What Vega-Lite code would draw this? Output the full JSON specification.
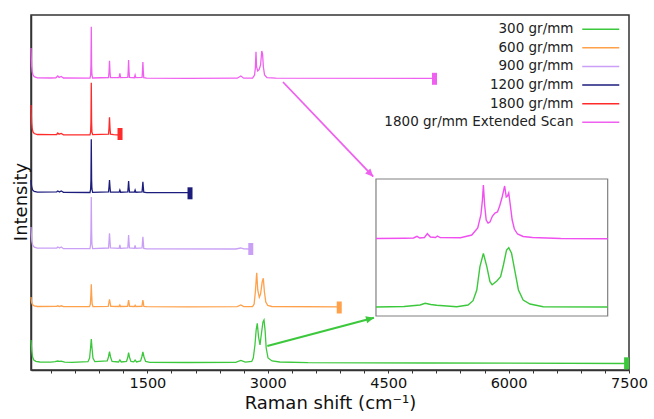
{
  "$schema": "https://vega.github.io/schema/vega-lite/v6.json",
  "width": 598,
  "height": 355,
  "autosize": {"type": "none"},
  "padding": {"left": 31, "top": 15, "right": 25, "bottom": 49},
  "background": "#ffffff",
  "config": {
    "font": "DejaVu Sans",
    "view": {"stroke": "#333333", "strokeWidth": 1.5},
    "axis": {"grid": false}
  },
  "datasets": {
    "spectra": [
      {"s":"1800 gr/mm Extended Scan","x":50,"y":322},{"s":"1800 gr/mm Extended Scan","x":54,"y":312},{"s":"1800 gr/mm Extended Scan","x":58,"y":304},{"s":"1800 gr/mm Extended Scan","x":65,"y":298},{"s":"1800 gr/mm Extended Scan","x":75,"y":295},{"s":"1800 gr/mm Extended Scan","x":90,"y":293.3},{"s":"1800 gr/mm Extended Scan","x":130,"y":292.2},{"s":"1800 gr/mm Extended Scan","x":300,"y":292},{"s":"1800 gr/mm Extended Scan","x":360,"y":292.2},{"s":"1800 gr/mm Extended Scan","x":384,"y":294},{"s":"1800 gr/mm Extended Scan","x":400,"y":292.6},{"s":"1800 gr/mm Extended Scan","x":426,"y":293.6},{"s":"1800 gr/mm Extended Scan","x":455,"y":292},{"s":"1800 gr/mm Extended Scan","x":785,"y":291.8},{"s":"1800 gr/mm Extended Scan","x":793,"y":295},{"s":"1800 gr/mm Extended Scan","x":797,"y":305},{"s":"1800 gr/mm Extended Scan","x":801,"y":343.3},{"s":"1800 gr/mm Extended Scan","x":805,"y":305},{"s":"1800 gr/mm Extended Scan","x":809,"y":295},{"s":"1800 gr/mm Extended Scan","x":818,"y":292},{"s":"1800 gr/mm Extended Scan","x":1016,"y":292.5},{"s":"1800 gr/mm Extended Scan","x":1022,"y":298},{"s":"1800 gr/mm Extended Scan","x":1028,"y":309.3},{"s":"1800 gr/mm Extended Scan","x":1034,"y":298},{"s":"1800 gr/mm Extended Scan","x":1040,"y":292.5},{"s":"1800 gr/mm Extended Scan","x":1148,"y":292.3},{"s":"1800 gr/mm Extended Scan","x":1157,"y":296.7},{"s":"1800 gr/mm Extended Scan","x":1166,"y":292.3},{"s":"1800 gr/mm Extended Scan","x":1256,"y":292.6},{"s":"1800 gr/mm Extended Scan","x":1261,"y":299},{"s":"1800 gr/mm Extended Scan","x":1266,"y":310},{"s":"1800 gr/mm Extended Scan","x":1271,"y":299},{"s":"1800 gr/mm Extended Scan","x":1277,"y":292.6},{"s":"1800 gr/mm Extended Scan","x":1338,"y":292.3},{"s":"1800 gr/mm Extended Scan","x":1347,"y":295},{"s":"1800 gr/mm Extended Scan","x":1356,"y":292.3},{"s":"1800 gr/mm Extended Scan","x":1434,"y":292.6},{"s":"1800 gr/mm Extended Scan","x":1439,"y":299},{"s":"1800 gr/mm Extended Scan","x":1444,"y":308},{"s":"1800 gr/mm Extended Scan","x":1449,"y":299},{"s":"1800 gr/mm Extended Scan","x":1455,"y":292.3},{"s":"1800 gr/mm Extended Scan","x":1490,"y":291.8},{"s":"1800 gr/mm Extended Scan","x":2000,"y":291.7},{"s":"1800 gr/mm Extended Scan","x":2620,"y":291.8},{"s":"1800 gr/mm Extended Scan","x":2664,"y":294},{"s":"1800 gr/mm Extended Scan","x":2700,"y":291.8},{"s":"1800 gr/mm Extended Scan","x":2810,"y":292},{"s":"1800 gr/mm Extended Scan","x":2835,"y":295},{"s":"1800 gr/mm Extended Scan","x":2845,"y":302},{"s":"1800 gr/mm Extended Scan","x":2853,"y":318.3},{"s":"1800 gr/mm Extended Scan","x":2860,"y":303},{"s":"1800 gr/mm Extended Scan","x":2875,"y":299},{"s":"1800 gr/mm Extended Scan","x":2893,"y":300.5},{"s":"1800 gr/mm Extended Scan","x":2910,"y":305},{"s":"1800 gr/mm Extended Scan","x":2925,"y":319},{"s":"1800 gr/mm Extended Scan","x":2935,"y":316},{"s":"1800 gr/mm Extended Scan","x":2945,"y":303},{"s":"1800 gr/mm Extended Scan","x":2960,"y":295},{"s":"1800 gr/mm Extended Scan","x":2990,"y":292.3},{"s":"1800 gr/mm Extended Scan","x":3100,"y":291.8},{"s":"1800 gr/mm Extended Scan","x":5077,"y":291.7},

      {"s":"1800 gr/mm","x":50,"y":265},{"s":"1800 gr/mm","x":54,"y":255},{"s":"1800 gr/mm","x":58,"y":247},{"s":"1800 gr/mm","x":65,"y":241},{"s":"1800 gr/mm","x":75,"y":238},{"s":"1800 gr/mm","x":90,"y":236.5},{"s":"1800 gr/mm","x":130,"y":235.5},{"s":"1800 gr/mm","x":300,"y":235.3},{"s":"1800 gr/mm","x":370,"y":235.5},{"s":"1800 gr/mm","x":384,"y":237},{"s":"1800 gr/mm","x":400,"y":235.8},{"s":"1800 gr/mm","x":426,"y":236.5},{"s":"1800 gr/mm","x":455,"y":235.2},{"s":"1800 gr/mm","x":785,"y":235.2},{"s":"1800 gr/mm","x":793,"y":238},{"s":"1800 gr/mm","x":797,"y":248},{"s":"1800 gr/mm","x":801,"y":287.3},{"s":"1800 gr/mm","x":805,"y":248},{"s":"1800 gr/mm","x":809,"y":238},{"s":"1800 gr/mm","x":818,"y":235.3},{"s":"1800 gr/mm","x":1016,"y":235.8},{"s":"1800 gr/mm","x":1022,"y":242},{"s":"1800 gr/mm","x":1028,"y":252.7},{"s":"1800 gr/mm","x":1034,"y":242},{"s":"1800 gr/mm","x":1040,"y":235.8},{"s":"1800 gr/mm","x":1080,"y":235.3},{"s":"1800 gr/mm","x":1159,"y":235},

      {"s":"1200 gr/mm","x":50,"y":190},{"s":"1200 gr/mm","x":54,"y":186},{"s":"1200 gr/mm","x":60,"y":182.5},{"s":"1200 gr/mm","x":70,"y":180},{"s":"1200 gr/mm","x":90,"y":178.5},{"s":"1200 gr/mm","x":130,"y":177.8},{"s":"1200 gr/mm","x":370,"y":178.2},{"s":"1200 gr/mm","x":384,"y":179},{"s":"1200 gr/mm","x":405,"y":178},{"s":"1200 gr/mm","x":426,"y":179},{"s":"1200 gr/mm","x":455,"y":177.6},{"s":"1200 gr/mm","x":785,"y":177.5},{"s":"1200 gr/mm","x":793,"y":181},{"s":"1200 gr/mm","x":797,"y":190},{"s":"1200 gr/mm","x":801,"y":230.7},{"s":"1200 gr/mm","x":805,"y":190},{"s":"1200 gr/mm","x":809,"y":181},{"s":"1200 gr/mm","x":818,"y":177.6},{"s":"1200 gr/mm","x":1016,"y":178.2},{"s":"1200 gr/mm","x":1022,"y":183},{"s":"1200 gr/mm","x":1028,"y":190},{"s":"1200 gr/mm","x":1034,"y":183},{"s":"1200 gr/mm","x":1040,"y":178},{"s":"1200 gr/mm","x":1148,"y":177.8},{"s":"1200 gr/mm","x":1157,"y":180},{"s":"1200 gr/mm","x":1166,"y":177.8},{"s":"1200 gr/mm","x":1256,"y":178.2},{"s":"1200 gr/mm","x":1261,"y":183},{"s":"1200 gr/mm","x":1266,"y":189},{"s":"1200 gr/mm","x":1271,"y":183},{"s":"1200 gr/mm","x":1277,"y":178},{"s":"1200 gr/mm","x":1338,"y":177.8},{"s":"1200 gr/mm","x":1347,"y":180},{"s":"1200 gr/mm","x":1356,"y":177.8},{"s":"1200 gr/mm","x":1434,"y":178.2},{"s":"1200 gr/mm","x":1439,"y":183},{"s":"1200 gr/mm","x":1444,"y":188.3},{"s":"1200 gr/mm","x":1449,"y":183},{"s":"1200 gr/mm","x":1455,"y":177.8},{"s":"1200 gr/mm","x":1490,"y":177.4},{"s":"1200 gr/mm","x":2031,"y":177.3},

      {"s":"900 gr/mm","x":50,"y":143},{"s":"900 gr/mm","x":54,"y":136},{"s":"900 gr/mm","x":60,"y":129},{"s":"900 gr/mm","x":70,"y":125},{"s":"900 gr/mm","x":90,"y":122.8},{"s":"900 gr/mm","x":130,"y":121.8},{"s":"900 gr/mm","x":370,"y":122},{"s":"900 gr/mm","x":384,"y":123},{"s":"900 gr/mm","x":405,"y":122},{"s":"900 gr/mm","x":426,"y":123},{"s":"900 gr/mm","x":455,"y":121.3},{"s":"900 gr/mm","x":785,"y":121.3},{"s":"900 gr/mm","x":793,"y":126},{"s":"900 gr/mm","x":797,"y":140},{"s":"900 gr/mm","x":801,"y":173},{"s":"900 gr/mm","x":805,"y":140},{"s":"900 gr/mm","x":809,"y":126},{"s":"900 gr/mm","x":818,"y":121.4},{"s":"900 gr/mm","x":1016,"y":122},{"s":"900 gr/mm","x":1022,"y":129},{"s":"900 gr/mm","x":1028,"y":136.7},{"s":"900 gr/mm","x":1034,"y":129},{"s":"900 gr/mm","x":1040,"y":122},{"s":"900 gr/mm","x":1148,"y":121.6},{"s":"900 gr/mm","x":1157,"y":125},{"s":"900 gr/mm","x":1166,"y":121.6},{"s":"900 gr/mm","x":1256,"y":122},{"s":"900 gr/mm","x":1261,"y":128},{"s":"900 gr/mm","x":1266,"y":135},{"s":"900 gr/mm","x":1271,"y":128},{"s":"900 gr/mm","x":1277,"y":122},{"s":"900 gr/mm","x":1338,"y":121.6},{"s":"900 gr/mm","x":1347,"y":124.7},{"s":"900 gr/mm","x":1356,"y":121.6},{"s":"900 gr/mm","x":1434,"y":122},{"s":"900 gr/mm","x":1439,"y":128},{"s":"900 gr/mm","x":1444,"y":133.3},{"s":"900 gr/mm","x":1449,"y":128},{"s":"900 gr/mm","x":1455,"y":121.6},{"s":"900 gr/mm","x":1490,"y":121.2},{"s":"900 gr/mm","x":2600,"y":121},{"s":"900 gr/mm","x":2664,"y":122},{"s":"900 gr/mm","x":2700,"y":121.1},{"s":"900 gr/mm","x":2788,"y":121},

      {"s":"600 gr/mm","x":50,"y":73},{"s":"600 gr/mm","x":54,"y":69.5},{"s":"600 gr/mm","x":60,"y":67},{"s":"600 gr/mm","x":70,"y":65.3},{"s":"600 gr/mm","x":90,"y":64.2},{"s":"600 gr/mm","x":130,"y":63.5},{"s":"600 gr/mm","x":370,"y":63.6},{"s":"600 gr/mm","x":384,"y":64.2},{"s":"600 gr/mm","x":405,"y":63.5},{"s":"600 gr/mm","x":426,"y":64.2},{"s":"600 gr/mm","x":455,"y":63.3},{"s":"600 gr/mm","x":780,"y":63.3},{"s":"600 gr/mm","x":790,"y":66},{"s":"600 gr/mm","x":796,"y":75},{"s":"600 gr/mm","x":801,"y":85.7},{"s":"600 gr/mm","x":806,"y":75},{"s":"600 gr/mm","x":812,"y":66},{"s":"600 gr/mm","x":822,"y":63.4},{"s":"600 gr/mm","x":1012,"y":63.6},{"s":"600 gr/mm","x":1020,"y":67},{"s":"600 gr/mm","x":1028,"y":70.7},{"s":"600 gr/mm","x":1036,"y":67},{"s":"600 gr/mm","x":1044,"y":63.6},{"s":"600 gr/mm","x":1148,"y":63.5},{"s":"600 gr/mm","x":1157,"y":65},{"s":"600 gr/mm","x":1166,"y":63.5},{"s":"600 gr/mm","x":1254,"y":63.6},{"s":"600 gr/mm","x":1260,"y":67},{"s":"600 gr/mm","x":1266,"y":70},{"s":"600 gr/mm","x":1272,"y":67},{"s":"600 gr/mm","x":1278,"y":63.6},{"s":"600 gr/mm","x":1338,"y":63.5},{"s":"600 gr/mm","x":1347,"y":64.7},{"s":"600 gr/mm","x":1356,"y":63.5},{"s":"600 gr/mm","x":1432,"y":63.6},{"s":"600 gr/mm","x":1438,"y":67},{"s":"600 gr/mm","x":1444,"y":70},{"s":"600 gr/mm","x":1450,"y":67},{"s":"600 gr/mm","x":1456,"y":63.5},{"s":"600 gr/mm","x":1490,"y":63.3},{"s":"600 gr/mm","x":2000,"y":63.2},{"s":"600 gr/mm","x":2620,"y":63.4},{"s":"600 gr/mm","x":2664,"y":65},{"s":"600 gr/mm","x":2700,"y":63.4},{"s":"600 gr/mm","x":2810,"y":63.5},{"s":"600 gr/mm","x":2830,"y":66},{"s":"600 gr/mm","x":2845,"y":78},{"s":"600 gr/mm","x":2862,"y":97.3},{"s":"600 gr/mm","x":2875,"y":80},{"s":"600 gr/mm","x":2894,"y":72.7},{"s":"600 gr/mm","x":2910,"y":76},{"s":"600 gr/mm","x":2930,"y":88},{"s":"600 gr/mm","x":2944,"y":91.7},{"s":"600 gr/mm","x":2958,"y":78},{"s":"600 gr/mm","x":2975,"y":68},{"s":"600 gr/mm","x":3000,"y":64.5},{"s":"600 gr/mm","x":3050,"y":63.5},{"s":"600 gr/mm","x":3890,"y":63.2},

      {"s":"300 gr/mm","x":50,"y":30},{"s":"300 gr/mm","x":54,"y":25},{"s":"300 gr/mm","x":60,"y":19},{"s":"300 gr/mm","x":70,"y":13},{"s":"300 gr/mm","x":85,"y":10},{"s":"300 gr/mm","x":110,"y":8.6},{"s":"300 gr/mm","x":160,"y":8},{"s":"300 gr/mm","x":300,"y":7.8},{"s":"300 gr/mm","x":350,"y":8.3},{"s":"300 gr/mm","x":384,"y":9},{"s":"300 gr/mm","x":405,"y":8.6},{"s":"300 gr/mm","x":426,"y":8.9},{"s":"300 gr/mm","x":470,"y":7.9},{"s":"300 gr/mm","x":560,"y":7.6},{"s":"300 gr/mm","x":760,"y":8.3},{"s":"300 gr/mm","x":780,"y":12},{"s":"300 gr/mm","x":792,"y":22},{"s":"300 gr/mm","x":801,"y":31},{"s":"300 gr/mm","x":810,"y":22},{"s":"300 gr/mm","x":822,"y":12},{"s":"300 gr/mm","x":845,"y":8.3},{"s":"300 gr/mm","x":1000,"y":9},{"s":"300 gr/mm","x":1015,"y":13},{"s":"300 gr/mm","x":1028,"y":18.3},{"s":"300 gr/mm","x":1041,"y":13},{"s":"300 gr/mm","x":1060,"y":8.6},{"s":"300 gr/mm","x":1140,"y":8},{"s":"300 gr/mm","x":1157,"y":10},{"s":"300 gr/mm","x":1175,"y":8},{"s":"300 gr/mm","x":1240,"y":8.6},{"s":"300 gr/mm","x":1255,"y":12.5},{"s":"300 gr/mm","x":1266,"y":17.5},{"s":"300 gr/mm","x":1278,"y":12.5},{"s":"300 gr/mm","x":1295,"y":8.6},{"s":"300 gr/mm","x":1330,"y":8.1},{"s":"300 gr/mm","x":1347,"y":10},{"s":"300 gr/mm","x":1365,"y":8.1},{"s":"300 gr/mm","x":1415,"y":9},{"s":"300 gr/mm","x":1430,"y":13},{"s":"300 gr/mm","x":1444,"y":18},{"s":"300 gr/mm","x":1458,"y":13},{"s":"300 gr/mm","x":1478,"y":8.6},{"s":"300 gr/mm","x":1530,"y":7.6},{"s":"300 gr/mm","x":2000,"y":7.5},{"s":"300 gr/mm","x":2600,"y":7.7},{"s":"300 gr/mm","x":2664,"y":9.5},{"s":"300 gr/mm","x":2720,"y":7.8},{"s":"300 gr/mm","x":2800,"y":8.5},{"s":"300 gr/mm","x":2819,"y":12},{"s":"300 gr/mm","x":2840,"y":25},{"s":"300 gr/mm","x":2855,"y":40},{"s":"300 gr/mm","x":2869,"y":46.7},{"s":"300 gr/mm","x":2885,"y":33},{"s":"300 gr/mm","x":2903,"y":25},{"s":"300 gr/mm","x":2920,"y":36},{"s":"300 gr/mm","x":2940,"y":48},{"s":"300 gr/mm","x":2953,"y":50},{"s":"300 gr/mm","x":2966,"y":40},{"s":"300 gr/mm","x":2980,"y":22},{"s":"300 gr/mm","x":3003,"y":12},{"s":"300 gr/mm","x":3053,"y":9},{"s":"300 gr/mm","x":3150,"y":8},{"s":"300 gr/mm","x":3500,"y":7.3},{"s":"300 gr/mm","x":5000,"y":7},{"s":"300 gr/mm","x":7470,"y":6.5}
    ],
    "markers": [
      {"s":"300 gr/mm","x":7470,"y":6.7},
      {"s":"600 gr/mm","x":3890,"y":62.5},
      {"s":"900 gr/mm","x":2788,"y":121},
      {"s":"1200 gr/mm","x":2031,"y":176.7},
      {"s":"1800 gr/mm","x":1159,"y":236},
      {"s":"1800 gr/mm Extended Scan","x":5077,"y":291.2}
    ],
    "arrows": [
      {"s":"ext","x":3189,"y":288,"x2":4314,"y2":193.3},
      {"s":"300","x":2994,"y":24,"x2":4323,"y2":52.3}
    ],
    "frame": [
      {"x":2510,"x2":3250,"y":0,"y2":137}
    ],
    "inset": [
      {"s":"ext","x":2510,"y":77.5},{"s":"ext","x":2600,"y":77.8},{"s":"ext","x":2630,"y":78},{"s":"ext","x":2641,"y":79.7},{"s":"ext","x":2650,"y":78},{"s":"ext","x":2665,"y":78.5},{"s":"ext","x":2674,"y":82.3},{"s":"ext","x":2684,"y":79},{"s":"ext","x":2700,"y":78.5},{"s":"ext","x":2706,"y":80},{"s":"ext","x":2715,"y":78.4},{"s":"ext","x":2780,"y":78.2},{"s":"ext","x":2816,"y":81},{"s":"ext","x":2835,"y":88},{"s":"ext","x":2845,"y":101},{"s":"ext","x":2850,"y":116},{"s":"ext","x":2853,"y":131},{"s":"ext","x":2857,"y":111},{"s":"ext","x":2862,"y":96},{"s":"ext","x":2868,"y":93},{"s":"ext","x":2874,"y":94},{"s":"ext","x":2882,"y":100},{"s":"ext","x":2890,"y":103},{"s":"ext","x":2898,"y":104},{"s":"ext","x":2905,"y":110},{"s":"ext","x":2913,"y":119},{"s":"ext","x":2921,"y":130},{"s":"ext","x":2926,"y":119},{"s":"ext","x":2930,"y":120},{"s":"ext","x":2934,"y":123},{"s":"ext","x":2939,"y":111},{"s":"ext","x":2945,"y":96},{"s":"ext","x":2952,"y":87},{"s":"ext","x":2962,"y":82},{"s":"ext","x":2980,"y":79.5},{"s":"ext","x":3010,"y":78.5},{"s":"ext","x":3100,"y":77.5},{"s":"ext","x":3250,"y":77.2},
      {"s":"300","x":2510,"y":9},{"s":"300","x":2600,"y":9.5},{"s":"300","x":2651,"y":11},{"s":"300","x":2667,"y":12.7},{"s":"300","x":2685,"y":11.5},{"s":"300","x":2704,"y":10.7},{"s":"300","x":2768,"y":9.3},{"s":"300","x":2804,"y":11},{"s":"300","x":2820,"y":15.3},{"s":"300","x":2832,"y":26},{"s":"300","x":2842,"y":49.3},{"s":"300","x":2853,"y":62.7},{"s":"300","x":2864,"y":49.3},{"s":"300","x":2874,"y":34.3},{"s":"300","x":2881,"y":31.3},{"s":"300","x":2896,"y":35},{"s":"300","x":2908,"y":39.3},{"s":"300","x":2917,"y":51},{"s":"300","x":2927,"y":66},{"s":"300","x":2934,"y":68.3},{"s":"300","x":2943,"y":62.7},{"s":"300","x":2954,"y":44.3},{"s":"300","x":2965,"y":26},{"s":"300","x":2980,"y":16},{"s":"300","x":3002,"y":12},{"s":"300","x":3044,"y":9.3},{"s":"300","x":3250,"y":9}
    ]
  },
  "layer": [
    {
      "layer": [
        {
          "data": {"name": "spectra"},
          "mark": {"type": "line", "strokeWidth": 1.3},
          "encoding": {
            "x": {
              "field": "x", "type": "quantitative",
              "scale": {"domain": [50, 7500], "nice": false, "zero": false},
              "axis": {
                "orient": "bottom",
                "values": [1500, 3000, 4500, 6000, 7500],
                "format": "d",
                "labelFlush": false, "labelOverlap": false,
                "labelFontSize": 14.5, "labelColor": "#111111", "labelPadding": 3,
                "tickSize": 3, "tickColor": "#333333", "tickWidth": 1,
                "domainColor": "#333333", "domainWidth": 1.5,
                "title": "Raman shift (cm⁻¹)", "titleFontSize": 18, "titleFontWeight": "normal",
                "titleColor": "#111111", "titlePadding": 5
              }
            },
            "y": {
              "field": "y", "type": "quantitative",
              "scale": {"domain": [0, 355], "nice": false, "zero": false},
              "axis": {
                "labels": false, "ticks": false,
                "domainColor": "#333333", "domainWidth": 1.5,
                "title": "Intensity", "titleFontSize": 18, "titleFontWeight": "normal", "titleColor": "#111111",
                "titleX": -4.5, "titleY": 186.5, "titleBaseline": "alphabetic", "titleAngle": -90, "titleAlign": "center"
              }
            },
            "color": {
              "field": "s", "type": "nominal",
              "scale": {
                "domain": ["300 gr/mm", "600 gr/mm", "900 gr/mm", "1200 gr/mm", "1800 gr/mm", "1800 gr/mm Extended Scan"],
                "range": ["#3cc83c", "#ffa04a", "#c9a0f5", "#1c1c7c", "#ff2a2a", "#f060f0"]
              },
              "legend": {
                "title": null, "orient": "none", "legendX": 563, "legendY": 7.5,
                "symbolType": "M-4,0H4", "symbolSize": 85.6, "symbolStrokeWidth": 1.5,
                "labelAlign": "right", "labelOffset": -34, "labelFont": "DejaVu Sans",
                "labelFontSize": 13.5, "labelColor": "#222222", "labelLimit": 400,
                "rowPadding": 3.6, "padding": 0
              }
            }
          }
        },
        {
          "data": {"name": "markers"},
          "mark": {"type": "tick", "orient": "vertical", "thickness": 5, "size": 12, "opacity": 1},
          "encoding": {
            "x": {
              "field": "x", "type": "quantitative",
              "axis": {
                "orient": "bottom",
                "values": [300,600,900,1200,1800,2100,2400,2700,3300,3600,3900,4200,4800,5100,5400,5700,6300,6600,6900,7200],
                "labels": false, "domain": false, "title": null,
                "tickSize": 3, "tickColor": "#333333", "tickWidth": 1
              }
            },
            "y": {"field": "y", "type": "quantitative"},
            "color": {"field": "s", "type": "nominal", "legend": null}
          }
        },
        {
          "data": {"name": "arrows"},
          "transform": [{"filter": "datum.s === 'ext'"}],
          "mark": {"type": "rule", "color": "#f060f0", "strokeWidth": 1.8},
          "encoding": {
            "x": {"field": "x", "type": "quantitative", "axis": null},
            "y": {"field": "y", "type": "quantitative"},
            "x2": {"field": "x2"},
            "y2": {"field": "y2"}
          }
        },
        {
          "data": {"name": "arrows"},
          "transform": [{"filter": "datum.s === '300'"}],
          "mark": {"type": "rule", "color": "#3cc83c", "strokeWidth": 2.2},
          "encoding": {
            "x": {"field": "x", "type": "quantitative", "axis": null},
            "y": {"field": "y", "type": "quantitative"},
            "x2": {"field": "x2"},
            "y2": {"field": "y2"}
          }
        },
        {
          "data": {"name": "arrows"},
          "transform": [{"filter": "datum.s === 'ext'"}],
          "mark": {"type": "point", "shape": "M0,0L-1,-0.45L-1,0.45Z", "size": 256, "filled": true, "opacity": 1, "color": "#f060f0", "angle": 46.4},
          "encoding": {
            "x": {"field": "x2", "type": "quantitative", "axis": null},
            "y": {"field": "y2", "type": "quantitative"}
          }
        },
        {
          "data": {"name": "arrows"},
          "transform": [{"filter": "datum.s === '300'"}],
          "mark": {"type": "point", "shape": "M0,0L-1,-0.45L-1,0.45Z", "size": 256, "filled": true, "opacity": 1, "color": "#3cc83c", "angle": 345.1},
          "encoding": {
            "x": {"field": "x2", "type": "quantitative", "axis": null},
            "y": {"field": "y2", "type": "quantitative"}
          }
        }
      ],
      "resolve": {"axis": {"x": "independent"}}
    },
    {
      "layer": [
        {
          "data": {"name": "frame"},
          "mark": {"type": "rect", "filled": false, "stroke": "#808080", "strokeWidth": 1.2},
          "encoding": {
            "x": {"field": "x", "type": "quantitative", "scale": {"domain": [1408.2, 3318.1], "nice": false, "zero": false}, "axis": null},
            "x2": {"field": "x2"},
            "y": {"field": "y", "type": "quantitative", "scale": {"domain": [-54, 301], "nice": false, "zero": false}, "axis": null},
            "y2": {"field": "y2"}
          }
        },
        {
          "data": {"name": "inset"},
          "transform": [{"filter": "datum.s === 'ext'"}],
          "mark": {"type": "line", "color": "#f050f0", "strokeWidth": 1.4},
          "encoding": {
            "x": {"field": "x", "type": "quantitative", "scale": {"domain": [1408.2, 3318.1], "nice": false, "zero": false}, "axis": null},
            "y": {"field": "y", "type": "quantitative", "scale": {"domain": [-54, 301], "nice": false, "zero": false}, "axis": null}
          }
        },
        {
          "data": {"name": "inset"},
          "transform": [{"filter": "datum.s === '300'"}],
          "mark": {"type": "line", "color": "#3cc83c", "strokeWidth": 1.4},
          "encoding": {
            "x": {"field": "x", "type": "quantitative", "scale": {"domain": [1408.2, 3318.1], "nice": false, "zero": false}, "axis": null},
            "y": {"field": "y", "type": "quantitative", "scale": {"domain": [-54, 301], "nice": false, "zero": false}, "axis": null}
          }
        }
      ]
    }
  ],
  "resolve": {"scale": {"x": "independent", "y": "independent"}}
}
